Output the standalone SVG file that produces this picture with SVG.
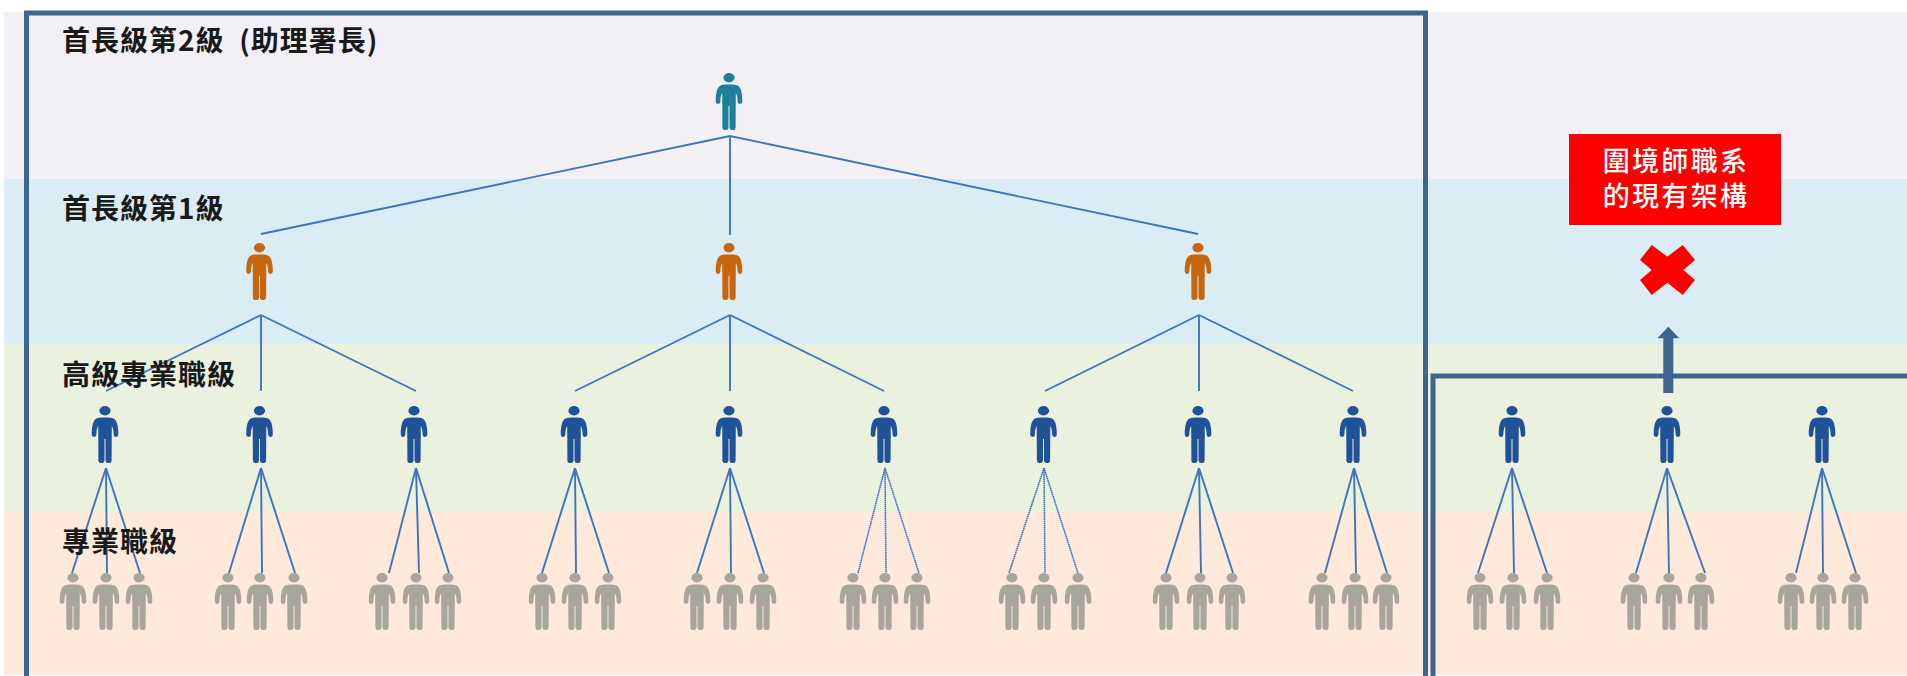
<svg xmlns="http://www.w3.org/2000/svg" width="1907" height="676" viewBox="0 0 1907 676">
<style>
.lbl{font-family:"Noto Sans CJK TC","Noto Sans CJK SC",sans-serif;font-size:28px;font-weight:700;letter-spacing:1px;fill:#1a1a1a;white-space:pre}
.red{font-family:"Noto Sans CJK TC","Noto Sans CJK SC",sans-serif;font-size:27px;font-weight:500;letter-spacing:2.3px;fill:#fff;text-anchor:middle}
.frame{fill:none;stroke:#3E6490;stroke-width:5}
.teal{fill:#1F7F99}.orange{fill:#C8660F}.blue{fill:#1F5297}.gray{fill:#A8A59A}
#connectors line{stroke:#3F74BC;stroke-width:1.9;fill:none}
#connectors line.dot{stroke-width:1.6;stroke-dasharray:1.6 .5}
</style>
<defs>
<g id="p"><ellipse cx="0" cy="4.8" rx="5.6" ry="4.7"/><path d="M-3 11.6H3C7 11.6 9.5 12.5 11 15C12.7 18 13.3 23 13.3 28.6A2.35 2.35 0 0 1 8.6 28.6C8.6 25 8.2 22 6.8 20L6.6 54.5A2.5 2.5 0 0 1 4 57H2.8A2.4 2.4 0 0 1 .5 54.5V33H-.5V54.5A2.4 2.4 0 0 1-2.8 57H-4A2.5 2.5 0 0 1-6.6 54.5L-6.8 20C-8.2 22-8.6 25-8.6 28.6A2.35 2.35 0 0 1-13.3 28.6C-13.3 23-12.7 18-11 15C-9.5 12.5-7 11.6-3 11.6Z"/></g>
</defs>
<g id="bands">
<rect x="4" y="12" width="1903" height="167" fill="#F2F0F5"/>
<rect x="4" y="179" width="1903" height="165" fill="#DAEDF4"/>
<rect x="4" y="344" width="1903" height="168" fill="#EAF1DF"/>
<rect x="4" y="512" width="1903" height="163" fill="#FEE9DB"/>
</g>
<g id="frames">
<rect class="frame" x="26.5" y="13" width="1399" height="680"/>
<rect class="frame" x="1433" y="376" width="480" height="320"/>
</g>
<g id="connectors">
<line x1="730" y1="136" x2="261" y2="234"/><line x1="730" y1="136" x2="730" y2="235"/><line x1="730" y1="136" x2="1198" y2="234"/>
<line x1="261" y1="315" x2="106" y2="391"/><line x1="261" y1="315" x2="261" y2="391"/><line x1="261" y1="315" x2="416" y2="391"/>
<line x1="730" y1="315" x2="575" y2="391"/><line x1="730" y1="315" x2="730" y2="391"/><line x1="730" y1="315" x2="884" y2="391"/>
<line x1="1199" y1="315" x2="1045" y2="391"/><line x1="1199" y1="315" x2="1199" y2="391"/><line x1="1199" y1="315" x2="1353" y2="391"/>
<line x1="106" y1="468" x2="72" y2="573"/><line x1="106" y1="468" x2="107" y2="573"/><line x1="106" y1="468" x2="140" y2="573"/>
<line x1="261" y1="468" x2="229" y2="573"/><line x1="261" y1="468" x2="262" y2="573"/><line x1="261" y1="468" x2="295" y2="573"/>
<line x1="416" y1="468" x2="389" y2="573"/><line x1="416" y1="468" x2="419" y2="573"/><line x1="416" y1="468" x2="449" y2="573"/>
<line x1="575" y1="468" x2="542" y2="573"/><line x1="575" y1="468" x2="576" y2="573"/><line x1="575" y1="468" x2="609" y2="573"/>
<line x1="730" y1="468" x2="697" y2="573"/><line x1="730" y1="468" x2="731" y2="573"/><line x1="730" y1="468" x2="764" y2="573"/>
<line class="dot" x1="885" y1="468" x2="858" y2="573"/><line class="dot" x1="885" y1="468" x2="886" y2="573"/><line class="dot" x1="885" y1="468" x2="919" y2="573"/>
<line class="dot" x1="1044" y1="468" x2="1009" y2="573"/><line class="dot" x1="1044" y1="468" x2="1045" y2="573"/><line class="dot" x1="1044" y1="468" x2="1078" y2="573"/>
<line x1="1199" y1="468" x2="1166" y2="573"/><line x1="1199" y1="468" x2="1201" y2="573"/><line x1="1199" y1="468" x2="1233" y2="573"/>
<line x1="1354" y1="468" x2="1325" y2="573"/><line x1="1354" y1="468" x2="1356" y2="573"/><line x1="1354" y1="468" x2="1387" y2="573"/>
<line x1="1512" y1="468" x2="1478" y2="573"/><line x1="1512" y1="468" x2="1514" y2="573"/><line x1="1512" y1="468" x2="1547" y2="573"/>
<line x1="1667" y1="468" x2="1636" y2="573"/><line x1="1667" y1="468" x2="1669" y2="573"/><line x1="1667" y1="468" x2="1705" y2="573"/>
<line x1="1822" y1="468" x2="1796" y2="573"/><line x1="1822" y1="468" x2="1823" y2="573"/><line x1="1822" y1="468" x2="1856" y2="573"/>
</g>
<g id="labels">
<text class="lbl" x="62" y="51">首長級第2級  (助理署長)</text>
<text class="lbl" x="62" y="219">首長級第1級</text>
<text class="lbl" x="62" y="385">高級專業職級</text>
<text class="lbl" x="62" y="552">專業職級</text>
</g>
<g id="n-top"><use href="#p" class="teal" x="729" y="73"/></g>
<g id="n-o1"><use href="#p" class="orange" x="259.5" y="243"/></g>
<g id="n-o2"><use href="#p" class="orange" x="729" y="243"/></g>
<g id="n-o3"><use href="#p" class="orange" x="1198" y="243"/></g>
<g id="n-b1"><use href="#p" class="blue" x="105" y="406"/></g>
<g id="n-b2"><use href="#p" class="blue" x="259.5" y="406"/></g>
<g id="n-b3"><use href="#p" class="blue" x="414" y="406"/></g>
<g id="n-b4"><use href="#p" class="blue" x="574" y="406"/></g>
<g id="n-b5"><use href="#p" class="blue" x="729" y="406"/></g>
<g id="n-b6"><use href="#p" class="blue" x="884" y="406"/></g>
<g id="n-b7"><use href="#p" class="blue" x="1043.5" y="406"/></g>
<g id="n-b8"><use href="#p" class="blue" x="1198" y="406"/></g>
<g id="n-b9"><use href="#p" class="blue" x="1353" y="406"/></g>
<g id="n-b10"><use href="#p" class="blue" x="1512" y="406"/></g>
<g id="n-b11"><use href="#p" class="blue" x="1667" y="406"/></g>
<g id="n-b12"><use href="#p" class="blue" x="1822" y="406"/></g>
<g id="n-g1"><use href="#p" class="gray" x="73" y="573"/></g>
<g id="n-g2"><use href="#p" class="gray" x="106" y="573"/></g>
<g id="n-g3"><use href="#p" class="gray" x="139" y="573"/></g>
<g id="n-g4"><use href="#p" class="gray" x="228" y="573"/></g>
<g id="n-g5"><use href="#p" class="gray" x="260" y="573"/></g>
<g id="n-g6"><use href="#p" class="gray" x="294" y="573"/></g>
<g id="n-g7"><use href="#p" class="gray" x="382" y="573"/></g>
<g id="n-g8"><use href="#p" class="gray" x="416" y="573"/></g>
<g id="n-g9"><use href="#p" class="gray" x="448" y="573"/></g>
<g id="n-g10"><use href="#p" class="gray" x="542" y="573"/></g>
<g id="n-g11"><use href="#p" class="gray" x="575" y="573"/></g>
<g id="n-g12"><use href="#p" class="gray" x="608" y="573"/></g>
<g id="n-g13"><use href="#p" class="gray" x="697" y="573"/></g>
<g id="n-g14"><use href="#p" class="gray" x="730" y="573"/></g>
<g id="n-g15"><use href="#p" class="gray" x="763" y="573"/></g>
<g id="n-g16"><use href="#p" class="gray" x="853" y="573"/></g>
<g id="n-g17"><use href="#p" class="gray" x="885" y="573"/></g>
<g id="n-g18"><use href="#p" class="gray" x="917" y="573"/></g>
<g id="n-g19"><use href="#p" class="gray" x="1012" y="573"/></g>
<g id="n-g20"><use href="#p" class="gray" x="1044" y="573"/></g>
<g id="n-g21"><use href="#p" class="gray" x="1078" y="573"/></g>
<g id="n-g22"><use href="#p" class="gray" x="1166" y="573"/></g>
<g id="n-g23"><use href="#p" class="gray" x="1200" y="573"/></g>
<g id="n-g24"><use href="#p" class="gray" x="1232" y="573"/></g>
<g id="n-g25"><use href="#p" class="gray" x="1322" y="573"/></g>
<g id="n-g26"><use href="#p" class="gray" x="1355" y="573"/></g>
<g id="n-g27"><use href="#p" class="gray" x="1386" y="573"/></g>
<g id="n-g28"><use href="#p" class="gray" x="1480" y="573"/></g>
<g id="n-g29"><use href="#p" class="gray" x="1513" y="573"/></g>
<g id="n-g30"><use href="#p" class="gray" x="1547" y="573"/></g>
<g id="n-g31"><use href="#p" class="gray" x="1634" y="573"/></g>
<g id="n-g32"><use href="#p" class="gray" x="1669" y="573"/></g>
<g id="n-g33"><use href="#p" class="gray" x="1701" y="573"/></g>
<g id="n-g34"><use href="#p" class="gray" x="1791" y="573"/></g>
<g id="n-g35"><use href="#p" class="gray" x="1823" y="573"/></g>
<g id="n-g36"><use href="#p" class="gray" x="1855" y="573"/></g>
<g id="n-arrow"><path d="M1663.300 393V338.300H1657.300L1668.300 326.700L1679.300 338.300H1673.300V393Z" fill="#3E6490"/></g>
<g id="n-cross"><path d="M1651.700 245L1667.300 256.700L1682.700 245L1695 260L1683.300 270L1695 280L1682.700 295L1667.300 282.700L1651.700 295L1640 280L1651.700 270L1640 260Z" fill="#FF0000"/></g>
<g id="n-status"><rect x="1569" y="134" width="212" height="91" fill="#FF0000"/>
<text class="red" y="171"><tspan x="1676" y="171">圍境師職系</tspan><tspan x="1676" y="206">的現有架構</tspan></text></g>
</svg>
